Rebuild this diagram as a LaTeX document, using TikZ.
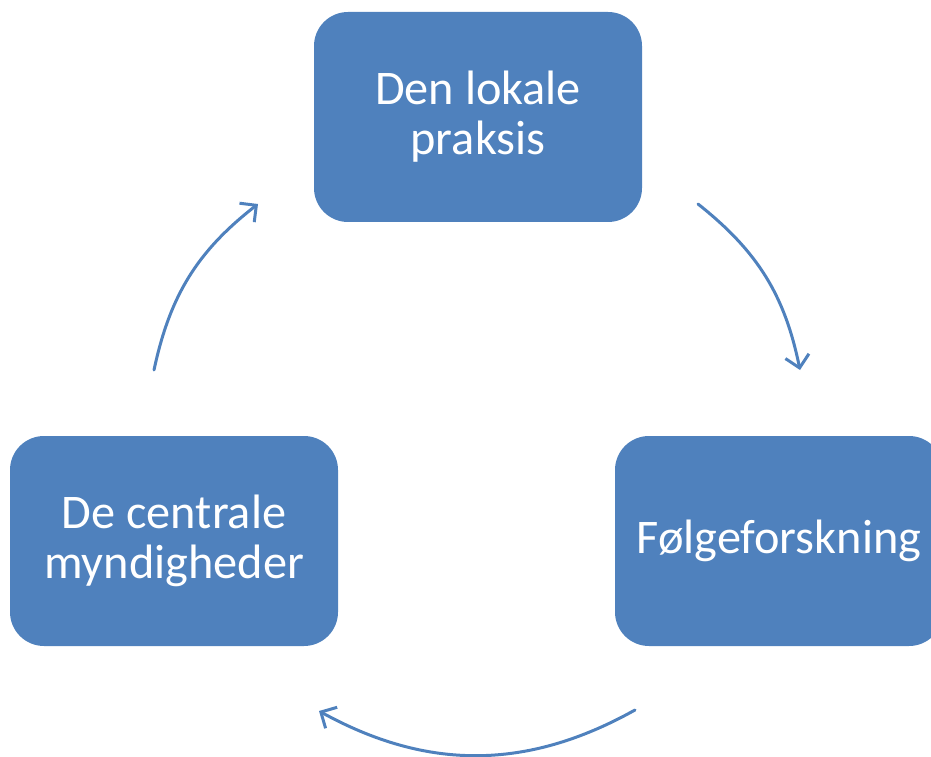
\documentclass[tikz,border=0pt]{standalone}
\usepackage{fontspec}
\setmainfont{Carlito}
\usetikzlibrary{arrows.meta}
\definecolor{boxblue}{RGB}{79,129,189}

\begin{document}
\begin{tikzpicture}[x=1pt, y=1pt, line cap=round, line join=round,
  stage/.style={fill=boxblue, text=white, rounded corners=34pt,
    minimum width=328pt, minimum height=210pt, inner sep=0pt,
    align=center, font=\fontsize{48.3}{50}\selectfont},
  flow/.style={boxblue, line width=3pt,
    -{Straight Barb[length=12pt,width=24pt]}}]

\clip (0,0) rectangle (931,756);

% ---------- stages ----------
\node[stage] (praksis) at (478,639) {Den lokale\\praksis};
\node[stage] (myndighed) at (174,215) {De centrale\\myndigheder};
\node[stage] (forskning) at (779,215) {Følgeforskning};

% ---------- arrow ends ----------
\coordinate (praksis-ud) at (698,552);
\coordinate (forskning-ind) at (800,386);
\coordinate (forskning-ud) at (635,46);
\coordinate (myndighed-ind) at (319,45);
\coordinate (myndighed-ud) at (154,386);
\coordinate (praksis-ind) at (258,552);

% ---------- cycle ----------
\draw[flow] (praksis-ud) to[bend left=20] (forskning-ind);
\draw[flow] (forskning-ud) to[bend left=29] (myndighed-ind);
\draw[flow] (myndighed-ud) to[bend left=20] (praksis-ind);

\end{tikzpicture}
\end{document}
